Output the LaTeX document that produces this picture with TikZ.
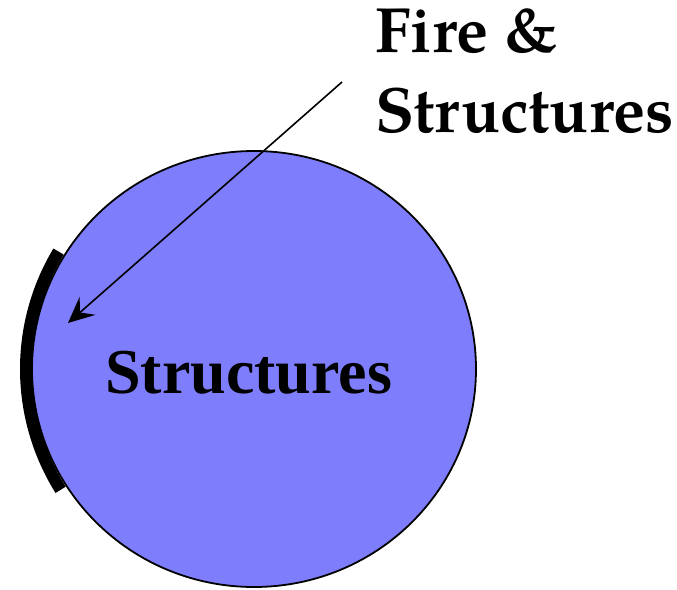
\documentclass[tikz,border=0pt]{standalone}
\usepackage{fontspec}
\setmainfont{Liberation Serif}
\newfontfamily\pala{TeX Gyre Pagella}
\usetikzlibrary{arrows.meta}
\definecolor{blobfill}{RGB}{126,126,252}
\tikzset{
  blob/.style={fill=blobfill, draw=black, line width=1.8pt},
  rim/.style={line width=12pt, draw=black},
  pointer/.style={line width=1.6pt, -{Stealth[length=26pt,width=24pt,inset=10pt]}},
  bigtext/.style={font=\bfseries\fontsize{64}{64}\selectfont, inner sep=0pt, anchor=base west},
  toptext/.style={font=\pala\bfseries\fontsize{64}{80}\selectfont, inner sep=0pt, anchor=base west, align=left}
}
\begin{document}
\begin{tikzpicture}[x=1pt,y=-1pt]
\useasboundingbox (0,0) rectangle (677,589);
\draw[blob] (254,369) ellipse [x radius=222, y radius=218];
\draw[rim] (254,369) ++(148:228) arc[start angle=148, end angle=211, radius=228];
\node[bigtext] (inner) at (105,393) {Structures};
\node[toptext] (line1) at (375,52) {Fire \&};
\node[toptext] (line2) at (375,132) {Structures};
\coordinate (start) at (342,82);
\coordinate (tip) at (68,323);
\draw[pointer] (start) -- (tip);
\end{tikzpicture}
\end{document}
